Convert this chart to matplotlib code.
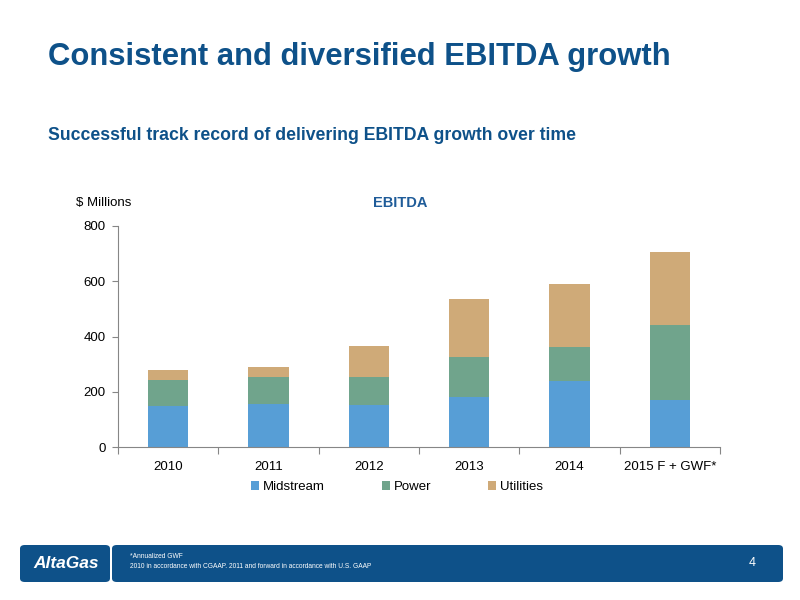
import matplotlib
matplotlib.use("Agg")
import matplotlib.pyplot as plt
from matplotlib.patches import FancyBboxPatch
import numpy as np

plt.rcParams['font.family'] = ['Liberation Sans', 'DejaVu Sans']

categories = ["2010", "2011", "2012", "2013", "2014", "2015 F + GWF*"]
midstream = [150, 156, 153, 181, 239, 170]
power = [91, 96, 102, 146, 123, 272]
utilities = [37, 36, 110, 209, 229, 263]
series_names = ["Midstream", "Power", "Utilities"]
colors = ["#579ED6", "#70A48C", "#CFAA78"]
yticks = [0, 200, 400, 600, 800]

BLUE = "#0E5189"

fig = plt.figure(figsize=(8, 6), dpi=100)
fig.patch.set_facecolor("white")

fig.text(48/800, 1-57/600, "Consistent and diversified EBITDA growth",
         fontsize=22.3, fontweight="bold", color=BLUE, va="center", ha="left")
fig.text(48/800, 1-135/600, "Successful track record of delivering EBITDA growth over time",
         fontsize=12.7, fontweight="bold", color=BLUE, va="center", ha="left")

ax = fig.add_axes([118/800, 1-447/600, (720-118)/800, (447-226)/600])
x = np.arange(len(categories))
w = 0.4
b1 = ax.bar(x, midstream, w, color=colors[0], label=series_names[0])
bottom2 = np.array(midstream)
b2 = ax.bar(x, power, w, bottom=bottom2, color=colors[1], label=series_names[1])
bottom3 = bottom2 + np.array(power)
b3 = ax.bar(x, utilities, w, bottom=bottom3, color=colors[2], label=series_names[2])

ax.set_xlim(-0.5, len(categories) - 0.5)
ax.set_ylim(0, 800)
ax.set_yticks(yticks)
ax.set_yticklabels([str(v) for v in yticks])
ax.set_xticks(x)
ax.set_xticklabels(categories)
ax.set_xticks(np.arange(-0.5, len(categories)), minor=True)
ax.tick_params(axis="x", which="major", length=0, pad=10, labelsize=9.5, colors="#000000")
ax.tick_params(axis="x", which="minor", length=5, color="#868686", width=0.8)
ax.tick_params(axis="y", length=4, color="#868686", width=0.8, labelsize=9.5, pad=5)
for s in ["top", "right"]:
    ax.spines[s].set_visible(False)
for s in ["left", "bottom"]:
    ax.spines[s].set_color("#868686")
    ax.spines[s].set_linewidth(0.8)

fig.text(76/800, 1-203/600, "$ Millions", fontsize=9.5, va="center", ha="left")
fig.text(400/800, 1-203/600, "EBITDA", fontsize=10.5, fontweight="bold", color="#1F5C99",
         va="center", ha="center")

fig.legend(handles=[b1, b2, b3], labels=series_names, loc="center",
           bbox_to_anchor=(397/800, 1-487/600), ncol=3, frameon=False,
           fontsize=9.5, handlelength=0.6, handleheight=0.6, handletextpad=0.3,
           columnspacing=4.3)

# footer band
fig.patches.append(FancyBboxPatch((20/800, 1-582/600), (110-20)/800, 37/600,
                                  boxstyle="round,pad=0,rounding_size=0.006",
                                  transform=fig.transFigure, facecolor=BLUE,
                                  edgecolor="none"))
fig.patches.append(FancyBboxPatch((112/800, 1-582/600), (783-112)/800, 37/600,
                                  boxstyle="round,pad=0,rounding_size=0.006",
                                  transform=fig.transFigure, facecolor=BLUE,
                                  edgecolor="none"))
fig.text(66/800, 1-563/600, "AltaGas", fontsize=12.5, fontweight="bold", style="italic",
         color="white", va="center", ha="center")
fig.text(130/800, 1-557/600, "*Annualized GWF", fontsize=4.8, color="white",
         va="center", ha="left")
fig.text(130/800, 1-567/600,
         "2010 in accordance with CGAAP. 2011 and forward in accordance with U.S. GAAP",
         fontsize=4.8, color="white", va="center", ha="left")
fig.text(752/800, 1-563/600, "4", fontsize=9, color="white", va="center", ha="center")

fig.savefig("out.png", dpi=100)
